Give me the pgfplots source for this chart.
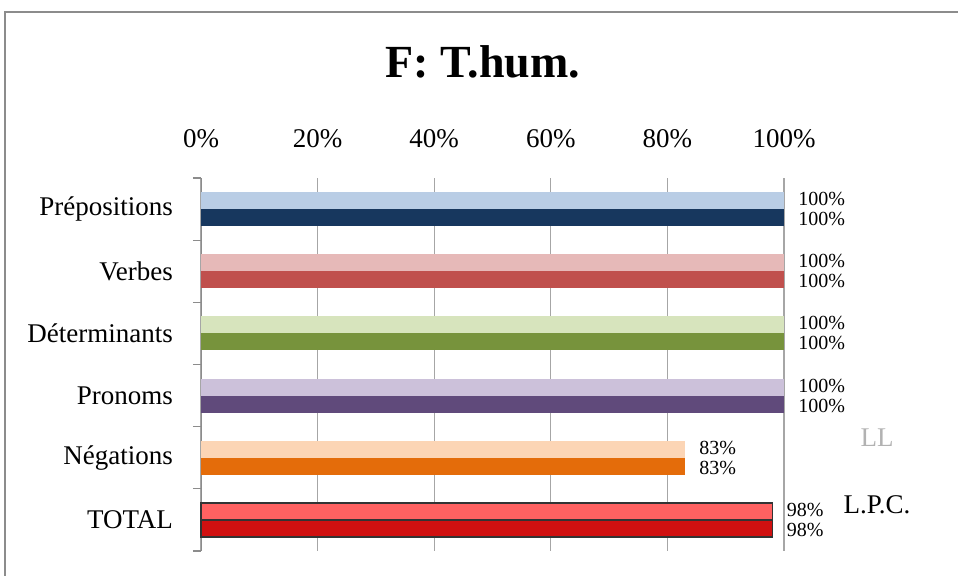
\documentclass[border=0pt]{standalone}
\usepackage{pgfplots}
\pgfplotsset{compat=1.18}
\usepackage{fontspec}
\setmainfont{Liberation Serif}

\definecolor{frame}{HTML}{8C8C8C}
\definecolor{gridc}{HTML}{A6A6A6}
\definecolor{preL}{HTML}{B9CDE5}
\definecolor{preD}{HTML}{17375E}
\definecolor{verL}{HTML}{E6B9B8}
\definecolor{verD}{HTML}{C0504D}
\definecolor{detL}{HTML}{D7E4BD}
\definecolor{detD}{HTML}{77933C}
\definecolor{proL}{HTML}{CCC1DA}
\definecolor{proD}{HTML}{604A7B}
\definecolor{negL}{HTML}{FCD5B5}
\definecolor{negD}{HTML}{E46C0A}
\definecolor{totL}{HTML}{FF6161}
\definecolor{totD}{HTML}{D01010}

\pgfplotsset{
  lt/.style={xbar, bar width=8.5pt, bar shift=4.25pt, draw=none, fill=#1,
    every node near coord/.append style={yshift=5pt}},
  dk/.style={xbar, bar width=8.5pt, bar shift=-4.25pt, draw=none, fill=#1,
    every node near coord/.append style={yshift=-5pt}},
}

\begin{document}
\begin{tikzpicture}

  %% picture frame in pixel units (1px = 0.5pt), origin at axis corner
  \begin{scope}[x=0.5pt, y=-0.5pt, shift={(-201,-551)}]
    \path[use as bounding box] (0,0) rectangle (958,576);
    \draw[frame, line width=1pt] (5,580) -- (5,12) -- (962,12);
    \node[font=\bfseries\fontsize{23}{26}\selectfont] at (483,62) {F: T.hum.};
    \node[font=\fontsize{13.5}{15}\selectfont, text=gray!60] at (877,438) {LL};
    \node[font=\fontsize{13.5}{15}\selectfont] at (877,505) {L.P.C.};
  \end{scope}

  \begin{axis}[
    scale only axis,
    width = 291.5pt,
    height = 186.5pt,
    xmin = 0, xmax = 100,
    ymin = -0.5, ymax = 5.5,
    axis y line* = left,
    axis x line* = top,
    x axis line style = {draw=none},
    y axis line style = {frame},
    xtick = {0,20,...,100},
    xticklabel = {\pgfmathprintnumber{\tick}\%},
    xtick style = {draw=none},
    xticklabel style = {font=\fontsize{13.5}{15}\selectfont, yshift=7.5pt},
    xmajorgrids,
    major grid style = {gridc, line width=0.6pt},
    ytick = {-0.5,0.5,...,5.5},
    yticklabels = {},
    tick align = outside,
    ytick style = {frame, line width=0.6pt},
    major tick length = 4pt,
    extra y ticks = {0,1,2,3,4,5},
    extra y tick labels = {TOTAL,Négations,Pronoms,Déterminants,Verbes,Prépositions},
    extra y tick style = {major tick length=0pt, grid=none,
      yticklabel style={font=\fontsize{13.5}{15}\selectfont, xshift=-10.5pt}},
    /pgf/number format/assume math mode=true,
    point meta = x,
    nodes near coords = {\pgfmathprintnumber{\pgfplotspointmeta}\%},
    nodes near coords align = horizontal,
    every node near coord/.append style = {font=\fontsize{10}{10}\selectfont,
      anchor=west, inner xsep=0pt, inner ysep=0pt, xshift=7pt},
    clip = false,
  ]
    % Prépositions
    \addplot[lt=preL] coordinates {(100,5)};
    \addplot[dk=preD] coordinates {(100,5)};
    % Verbes
    \addplot[lt=verL] coordinates {(100,4)};
    \addplot[dk=verD] coordinates {(100,4)};
    % Déterminants
    \addplot[lt=detL] coordinates {(100,3)};
    \addplot[dk=detD] coordinates {(100,3)};
    % Pronoms
    \addplot[lt=proL] coordinates {(100,2)};
    \addplot[dk=proD] coordinates {(100,2)};
    % Négations
    \addplot[lt=negL] coordinates {(83,1)};
    \addplot[dk=negD] coordinates {(83,1)};
    % TOTAL
    \addplot[lt=totL, draw=black!80, line width=0.6pt] coordinates {(98,0)};
    \addplot[dk=totD, draw=black!80, line width=0.6pt] coordinates {(98,0)};
  \end{axis}

\end{tikzpicture}
\end{document}
